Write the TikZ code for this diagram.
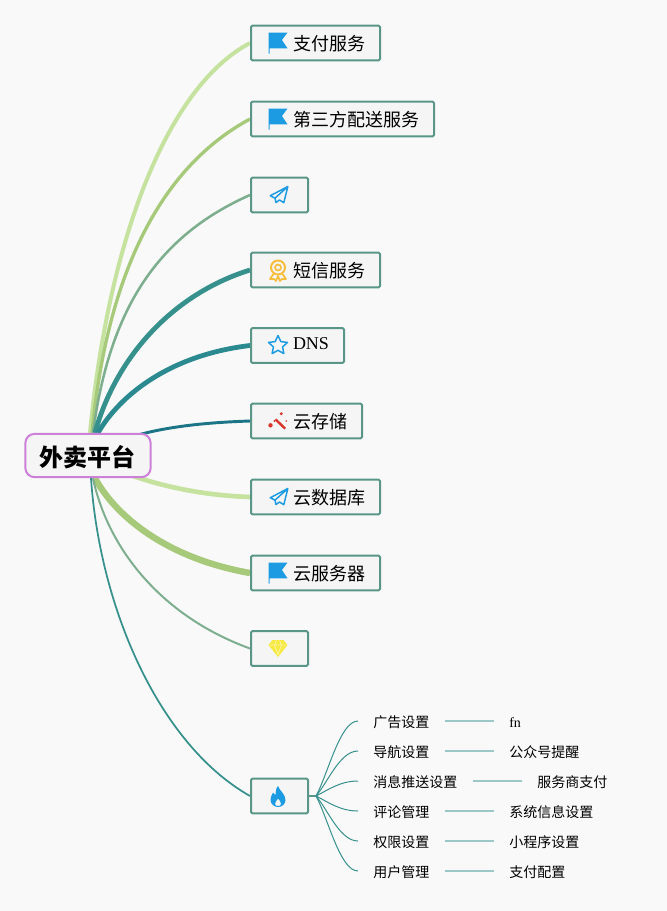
\documentclass[tikz,border=0pt]{standalone}
\usepackage{fontspec}
\setmainfont{Liberation Serif}
\newfontfamily\cjk{Noto Sans CJK SC}
\usetikzlibrary{backgrounds}
\definecolor{paper}{HTML}{F9F9FA}
\definecolor{boxedge}{HTML}{5A9688}
\definecolor{boxfill}{HTML}{F5F5F6}
\definecolor{rootedge}{HTML}{CC80D8}
\definecolor{lime}{HTML}{C5E29F}
\definecolor{leaf}{HTML}{A6C97A}
\definecolor{sage}{HTML}{7DAF8E}
\definecolor{teal1}{HTML}{36908C}
\definecolor{teal2}{HTML}{2A8A90}
\definecolor{teal3}{HTML}{1B7587}
\definecolor{iconblue}{HTML}{1C9BE2}
\definecolor{gold}{HTML}{F7BD3C}
\definecolor{gemyellow}{HTML}{F6E93F}
\definecolor{wandred}{HTML}{D9352B}
\tikzset{%
    x=0.75pt, y=0.75pt,
    rootnode/.style={draw=rootedge, fill=boxfill, line width=1.5pt, rounded corners=7pt,
        minimum width=94pt, minimum height=32.5pt, text height=17pt, text depth=1pt,
        font=\cjk\bfseries\fontsize{18}{20}\selectfont},
    topic/.style={draw=boxedge, fill=boxfill, line width=1.5pt, rounded corners=1pt, anchor=west,
        minimum height=26pt, inner xsep=11.25pt, inner ysep=0pt, text height=12.5pt, text depth=1pt,
        font=\cjk\fontsize{13.5}{16}\selectfont, execute at begin node={\hspace{20.25pt}}},
    icononly/.style={topic, minimum width=42.75pt},
    label/.style={anchor=west, inner xsep=11.25pt, inner ysep=0pt, text height=10.5pt, text depth=1pt,
        font=\cjk\fontsize{10.5}{12}\selectfont},
    flagicon/.pic={%
        code{%
            \fill[iconblue] (-9.5,10.5) -- (9.5,10.5) -- (4,3) -- (9.5,-5.3) -- (-8.5,-5.3)
                -- (-8.5,-10.5) -- (-9.5,-10.5) -- cycle;
        }
    },
    planeicon/.pic={%
        code{%
            \draw[iconblue, line width=1.1pt, line join=round] (9.8,8.5) -- (-7.7,-0.7) -- (-3,-3.2)
                -- (-2,-7.5) -- (1.5,-5) -- (5.8,-7.7) -- cycle (9.8,8.5) -- (-3,-3.2);
        }
    },
    medalicon/.pic={%
        code{%
            \draw[gold, line width=1.5pt] (0,2.5) circle (7);
            \draw[gold, line width=1.3pt] (0,2.5) circle (3);
            \draw[gold, line width=1.3pt, line join=round] (-4.5,-4) -- (-8,-9) -- (-4,-9) -- (-2,-11) -- (0,-6)
                -- (2,-11) -- (4,-9) -- (8,-9) -- (4.5,-4);
        }
    },
    staricon/.pic={%
        code{%
            \draw[iconblue, line width=1.1pt, line join=round] (90:10)
                \foreach \val in {1, ..., 9}{ -- (90+\val*36:{mod(\val,2)==1 ? 4.8 : 10}) } -- cycle;
        }
    },
    wandicon/.pic={%
        code{%
            \draw[wandred, line width=1.8pt] (-2.5,1.7) -- (7.2,-7.7);
            \foreach \pos/\size in {(3.2,7.3)/1.6, (-7.5,-4.3)/2.2, (-3.5,0)/1.1, (8.2,0)/0.9}{%
                \fill[wandred] \pos circle (\size);
            };
        }
    },
    gemicon/.pic={%
        code{%
            \fill[gemyellow] (-5.5,8.5) -- (5.5,8.5) -- (9.5,3.5) -- (0,-8.5) -- (-9.5,3.5) -- cycle;
            \draw[gemyellow!45, line width=0.6pt] (-8,3.5) -- (8,3.5) (-3.5,3.5) -- (0,-6) -- (3.5,3.5)
                (-3.5,3.5) -- (-1.5,8) (3.5,3.5) -- (1.5,8);
        }
    },
    fireicon/.pic={%
        code{%
            \fill[iconblue, even odd rule] (0,10) .. controls (1,6) and (7.5,2) .. (7.5,-4)
                .. controls (7.5,-8) and (4,-11) .. (0,-11) .. controls (-4,-11) and (-7.5,-8) .. (-7.5,-3.5)
                .. controls (-7.5,-1) and (-6,1.5) .. (-5,3.5) .. controls (-4.5,2) and (-3.5,1.5) .. (-2.5,1)
                .. controls (-2.5,4) and (-2,8) .. (0,10) -- cycle
                (0,-2.5) .. controls (2.5,-5) and (3,-7) .. (3,-8) .. controls (3,-9.5) and (1.5,-10) .. (0,-10)
                .. controls (-1.5,-10) and (-3,-9.5) .. (-3,-8) .. controls (-3,-6) and (-1,-4) .. (0,-2.5) -- cycle;
        }
    }
}

\begin{document}
\begin{tikzpicture}

    \useasboundingbox (0, 0) rectangle (667, -911);

    % Root
    \node[rootnode] (root) at (88, -455.5) {外卖平台};

    % Topics
    \node[topic] (pay) at (250, -43) {支付服务};
    \node[topic] (delivery) at (250, -119) {第三方配送服务};
    \node[icononly] (send) at (250, -195) {};
    \node[topic] (sms) at (250, -270) {短信服务};
    \node[topic] (dns) at (250, -345.5) {\rmfamily\raisebox{2.5pt}{DNS}};
    \node[topic] (storage) at (250, -421) {云存储};
    \node[topic] (database) at (250, -497) {云数据库};
    \node[topic] (server) at (250, -573) {云服务器};
    \node[icononly] (gem) at (250, -648.5) {};
    \node[icononly] (fire) at (250, -796) {};

    % Icons
    \path ([xshift=21pt] pay.west) pic {flagicon}
          ([xshift=21pt] delivery.west) pic {flagicon}
          ([xshift=21pt] send.west) pic {planeicon}
          ([xshift=21pt] sms.west) pic {medalicon}
          ([xshift=21pt] dns.west) pic {staricon}
          ([xshift=21pt] storage.west) pic {wandicon}
          ([xshift=21pt] database.west) pic {planeicon}
          ([xshift=21pt] server.west) pic {flagicon}
          ([xshift=21pt] gem.west) pic {gemicon}
          ([xshift=21pt] fire.west) pic {fireicon};

    % Settings
    \node[label] (ads) at (358, -721) {广告设置};
    \node[label] (nav) at (358, -751) {导航设置};
    \node[label] (push) at (358, -781) {消息推送设置};
    \node[label] (review) at (358, -811) {评论管理};
    \node[label] (rights) at (358, -841) {权限设置};
    \node[label] (users) at (358, -871) {用户管理};

    \node[label] (fn) at (494, -721) {\rmfamily fn};
    \node[label] (notice) at (494, -751) {公众号提醒};
    \node[label] (provider) at (522, -781) {服务商支付};
    \node[label] (system) at (494, -811) {系统信息设置};
    \node[label] (mini) at (494, -841) {小程序设置};
    \node[label] (config) at (494, -871) {支付配置};

    \begin{scope}[on background layer]
        \fill[paper] (0, 0) rectangle (667, -911);
        % Connecting root to topics
        \draw[lime, line width=3pt] (root.north) ++(2,0) .. controls (108, -245) and (165, -88) .. (pay.west);
        \draw[leaf, line width=2.5pt] (root.north) ++(4,0) .. controls (108, -265) and (165, -165) .. (delivery.west);
        \draw[sage, line width=1.9pt] (root.north) ++(5,0) .. controls (110, -305) and (160, -235) .. (send.west);
        \draw[teal1, line width=3.6pt] (root.north) ++(7,0) .. controls (115, -360) and (170, -295) .. (sms.west);
        \draw[teal2, line width=3.6pt] (root.north) ++(10,0) .. controls (120, -395) and (170, -355) .. (dns.west);
        \draw[teal3, line width=2.2pt] (root.center) .. controls (130, -430) and (190, -423) .. (storage.west);
        \draw[lime, line width=3.5pt] (root.center) .. controls (130, -480) and (190, -495) .. (database.west);
        \draw[leaf, line width=4.8pt] (root.south) ++(7,0) .. controls (115, -515) and (165, -558) .. (server.west);
        \draw[sage, line width=1.5pt] (root.south) ++(5,0) .. controls (107, -545) and (158, -615) .. (gem.west);
        \draw[teal1, line width=1.3pt] (root.south) ++(3,0) .. controls (100, -610) and (160, -745) .. (fire.west);
    \end{scope}

    % Connecting fire to settings
    \draw[boxedge, line width=1.5pt] (fire.east) -- ++(7, 0) coordinate (hub);
    \foreach \name/\dy in {ads/22, nav/14, push/6, review/-6, rights/-14, users/-22}{%
        \draw[teal1, line width=0.75pt] (hub) .. controls +(12, \dy) and +(-18, 0) .. (\name.west);
    };

    % Connecting settings to their values
    \foreach \from/\to in {ads/fn, nav/notice, push/provider, review/system, rights/mini, users/config}{%
        \draw[teal1!50, line width=1pt] (\from.east) -- (\to.west);
    };

\end{tikzpicture}
\end{document}
